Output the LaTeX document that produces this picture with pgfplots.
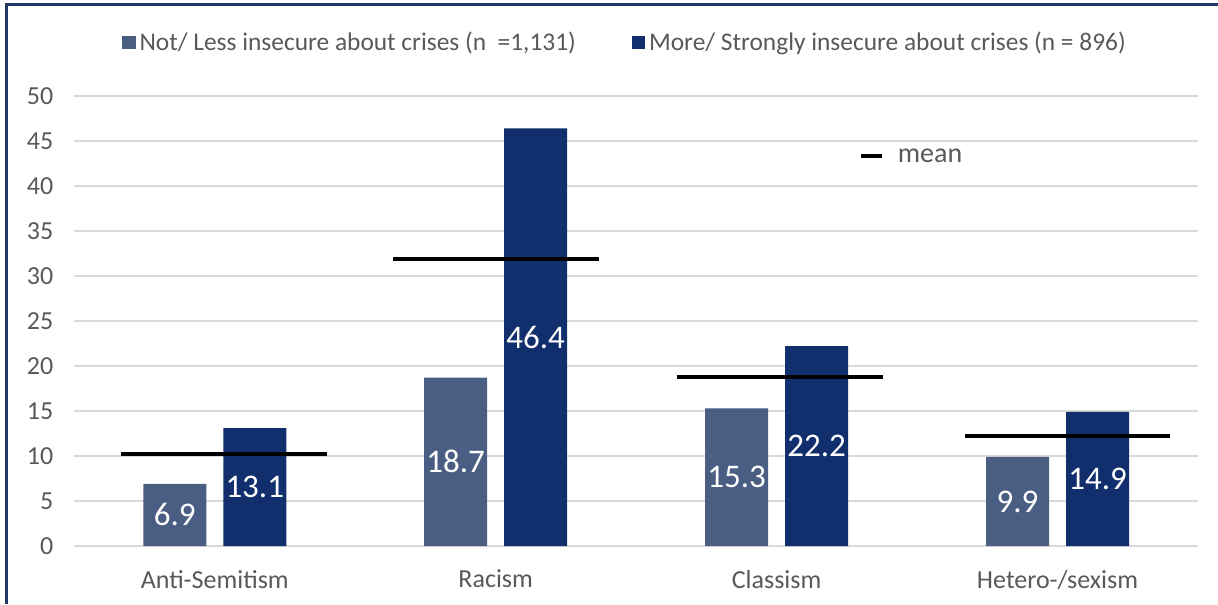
\documentclass[border=0pt]{standalone}
\usepackage{fontspec}
\setmainfont{Carlito}
\usepackage{pgfplots}
\pgfplotsset{compat=1.18}

\definecolor{lessblue}{HTML}{4A5E83}
\definecolor{moreblue}{HTML}{112E6D}
\definecolor{framenavy}{HTML}{1F3864}
\definecolor{gridgray}{HTML}{D9D9D9}
\definecolor{labelgray}{HTML}{595959}

\pgfplotsset{
  sqlegend/.style={legend image code/.code={\fill[##1,draw=none] (0pt,-3.3pt) rectangle (6.6pt,3.3pt);}},
  valuebar/.style={
    ybar, bar width=31.5pt, draw=none, bar shift=#1,
    visualization depends on={rawy \as \rawy},
    nodes near coords={\pgfmathprintnumber[fixed,precision=1,fixed zerofill]{\pgfplotspointmeta}},
    every node near coord/.append style={anchor=center, text=white,
      font=\fontsize{16.5}{18}\selectfont, xshift=#1,
      shift={(axis direction cs:0,-\rawy/2)}},
  },
  meanline/.style={black, line width=1.9pt, forget plot, mark=none},
}

\begin{document}
\begin{tikzpicture}
\useasboundingbox (-37.15pt,-29pt) rectangle (571.85pt,273pt);
% frame
\draw[framenavy, line width=1.5pt] (-33.65pt,-29pt) -- (-33.65pt,270.5pt) -- (571.85pt,270.5pt);
\begin{axis}[
  scale only axis, width=561.85pt, height=225pt,
  xmin=-0.5, xmax=3.5, ymin=0, ymax=50,
  ytick={0,5,...,50},
  xtick={0,1,2,3},
  xticklabels={Anti-Semitism,Racism,Classism,Hetero-/sexism},
  axis line style={draw=none},
  major tick length=0pt,
  ymajorgrids, grid style={gridgray, line width=1pt},
  tick label style={font=\fontsize{13}{15}\selectfont, text=labelgray},
  /pgf/number format/assume math mode=true,
  yticklabel style={xshift=-7pt},
  xticklabel style={yshift=-8.5pt},
  legend columns=2,
  legend style={draw=none, fill=none, at={(0.491,1.118)}, anchor=center,
    font=\fontsize{12.7}{15}\selectfont, text=labelgray,
    /tikz/every even column/.append style={column sep=26pt}},
  clip=false,
]
\addplot[valuebar=-20pt, fill=lessblue, sqlegend]
  coordinates {(0,6.9) (1,18.7) (2,15.3) (3,9.9)};
\addlegendentry{Not/ Less insecure about crises (n \ =1,131)}
\addplot[valuebar=20pt, fill=moreblue, sqlegend]
  coordinates {(0,13.1) (1,46.4) (2,22.2) (3,14.9)};
\addlegendentry{More/ Strongly insecure about crises (n = 896)}

% means per category
\addplot[meanline] coordinates {(-0.332,10.2) (0.399,10.2)};
\addplot[meanline] coordinates {(0.635,31.9) (1.367,31.9)};
\addplot[meanline] coordinates {(1.646,18.8) (2.377,18.8)};
\addplot[meanline] coordinates {(2.671,12.2) (3.401,12.2)};

% key for the mean lines
\draw[black, line width=2pt] (axis cs:2.300,43.3) -- (axis cs:2.375,43.3);
\node[anchor=west, inner sep=0pt, text=labelgray, font=\fontsize{14}{16}\selectfont]
  at (axis cs:2.43,43.3) {mean};
\end{axis}
\end{tikzpicture}
\end{document}
